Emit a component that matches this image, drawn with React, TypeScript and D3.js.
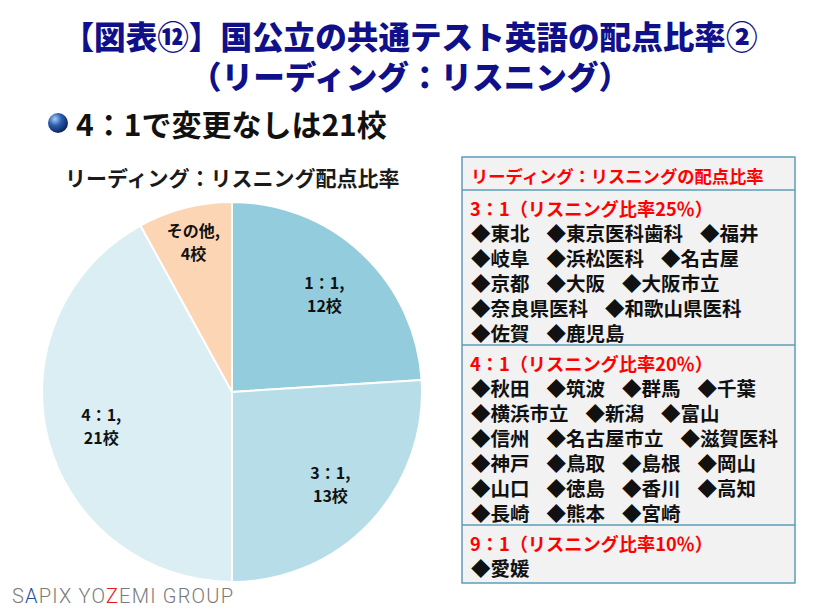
import React from "react";
import * as d3 from "d3";

const categories = ["1：1", "3：1", "4：1", "その他"];
const counts = [12, 13, 21, 4];
const sliceColors = ["#93CDDD", "#B7DEE8", "#DBEEF4", "#FCD5B5"];

const titleLines = ["【図表⑫】国公立の共通テスト英語の配点比率②", "（リーディング：リスニング）"];
const headline = "4：1で変更なしは21校";
const pieTitle = "リーディング：リスニング配点比率";
const tableHeader = "リーディング：リスニングの配点比率";
const sectionTitles = [
  "3：1（リスニング比率25％）",
  "4：1（リスニング比率20％）",
  "9：1（リスニング比率10％）",
];
const section1Rows = [
  ["東北", "東京医科歯科", "福井"],
  ["岐阜", "浜松医科", "名古屋"],
  ["京都", "大阪", "大阪市立"],
  ["奈良県医科", "和歌山県医科"],
  ["佐賀", "鹿児島"],
];
const section2Rows = [
  ["秋田", "筑波", "群馬", "千葉"],
  ["横浜市立", "新潟", "富山"],
  ["信州", "名古屋市立", "滋賀医科"],
  ["神戸", "鳥取", "島根", "岡山"],
  ["山口", "徳島", "香川", "高知"],
  ["長崎", "熊本", "宮崎"],
];
const section3Rows = [["愛媛"]];
const sections = [section1Rows, section2Rows, section3Rows];

const FONT = "'Noto Sans CJK JP', 'Noto Sans', sans-serif";

export default function App() {
  const cx = 232, cy = 392, R = 190;
  const pieGen = d3.pie<number>().sort(null).value((d) => d);
  const arcs = pieGen(counts);
  const arcGen = d3.arc<d3.PieArcDatum<number>>().innerRadius(0).outerRadius(R);

  const boxX = 462, boxW = 333, boxTop = 157, headerH = 33;
  const lineH = 25, itemFs = 19.5, gap = 17;
  let y = boxTop + headerH;
  const secLayout = sections.map((rows, i) => {
    const top = y;
    const h = (rows.length + 1) * lineH + (i === sections.length - 1 ? 8 : 5);
    y += h;
    return { top, h, rows };
  });
  const boxBottom = y;

  return (
    <svg width={820} height={615} style={{ position: "absolute", left: 0, top: 0, background: "#fff" }} fontFamily={FONT}>
      <defs>
        <radialGradient id="ball" cx="35%" cy="30%" r="75%">
          <stop offset="0%" stopColor="#a9cdf5" />
          <stop offset="45%" stopColor="#2a5cad" />
          <stop offset="100%" stopColor="#0a1f55" />
        </radialGradient>
      </defs>
      <text x={410} y={49} textAnchor="middle" fontSize={31.6} fontWeight={900} fill="#10108a">
        {titleLines[0]}
      </text>
      <text x={410} y={89} textAnchor="middle" fontSize={31.6} fontWeight={900} fill="#10108a">
        {titleLines[1]}
      </text>
      <circle cx={58} cy={123} r={10} fill="url(#ball)" />
      <text x={76} y={136} fontSize={30} fontWeight={700} fill="#111">{headline}</text>
      <text x={65} y={186} fontSize={21} fontWeight={700} fill="#1a1a1a">{pieTitle}</text>

      <g transform={`translate(${cx},${cy})`}>
        {arcs.map((a, i) => (
          <path key={i} d={arcGen(a) || ""} fill={sliceColors[i]} stroke="#fff" strokeWidth={2} />
        ))}
        {arcs.map((a, i) => {
          const r = counts[i] < 5 ? 155 : 135;
          const [lx, ly] = d3.arc<d3.PieArcDatum<number>>().innerRadius(r).outerRadius(r).centroid(a);
          return (
            <text key={i} x={lx} y={ly} textAnchor="middle" fontSize={16} fontWeight={700} fill="#111">
              <tspan x={lx} dy={-5}>{categories[i]},</tspan>
              <tspan x={lx} dy={23}>{counts[i]}校</tspan>
            </text>
          );
        })}
      </g>

      <rect x={boxX} y={boxTop} width={boxW} height={boxBottom - boxTop} fill="#F2F2F2" stroke="#5C9DB6" strokeWidth={1.5} />
      <line x1={boxX} x2={boxX + boxW} y1={boxTop + headerH} y2={boxTop + headerH} stroke="#5C9DB6" strokeWidth={1.5} />
      <text x={471} y={183} fontSize={17.3} fontWeight={700} fill="#FF0000">{tableHeader}</text>
      {secLayout.map((s, i) => (
        <g key={i}>
          {i > 0 && <line x1={boxX} x2={boxX + boxW} y1={s.top} y2={s.top} stroke="#5C9DB6" strokeWidth={1.5} />}
          <text x={470} y={s.top + 26} fontSize={18.2} fontWeight={700} fill="#FF0000">{sectionTitles[i]}</text>
          {s.rows.map((row, j) => (
            <text key={j} x={471} y={s.top + 26 + (j + 1) * lineH} fontSize={itemFs} fontWeight={700} fill="#111">
              {row.map((item, k) => (
                <tspan key={k} dx={k === 0 ? 0 : gap}>{"◆" + item}</tspan>
              ))}
            </text>
          ))}
        </g>
      ))}

      <text x={12} y={603} fontSize={20} fontWeight={300} fill="#7a7a7a" fontFamily="Roboto, sans-serif" letterSpacing={1.2}>
        <tspan>S</tspan><tspan fill="#1f4e9c">A</tspan><tspan>PIX YO</tspan><tspan fill="#e8141c">Z</tspan><tspan>EMI GROUP</tspan>
      </text>
    </svg>
  );
}
